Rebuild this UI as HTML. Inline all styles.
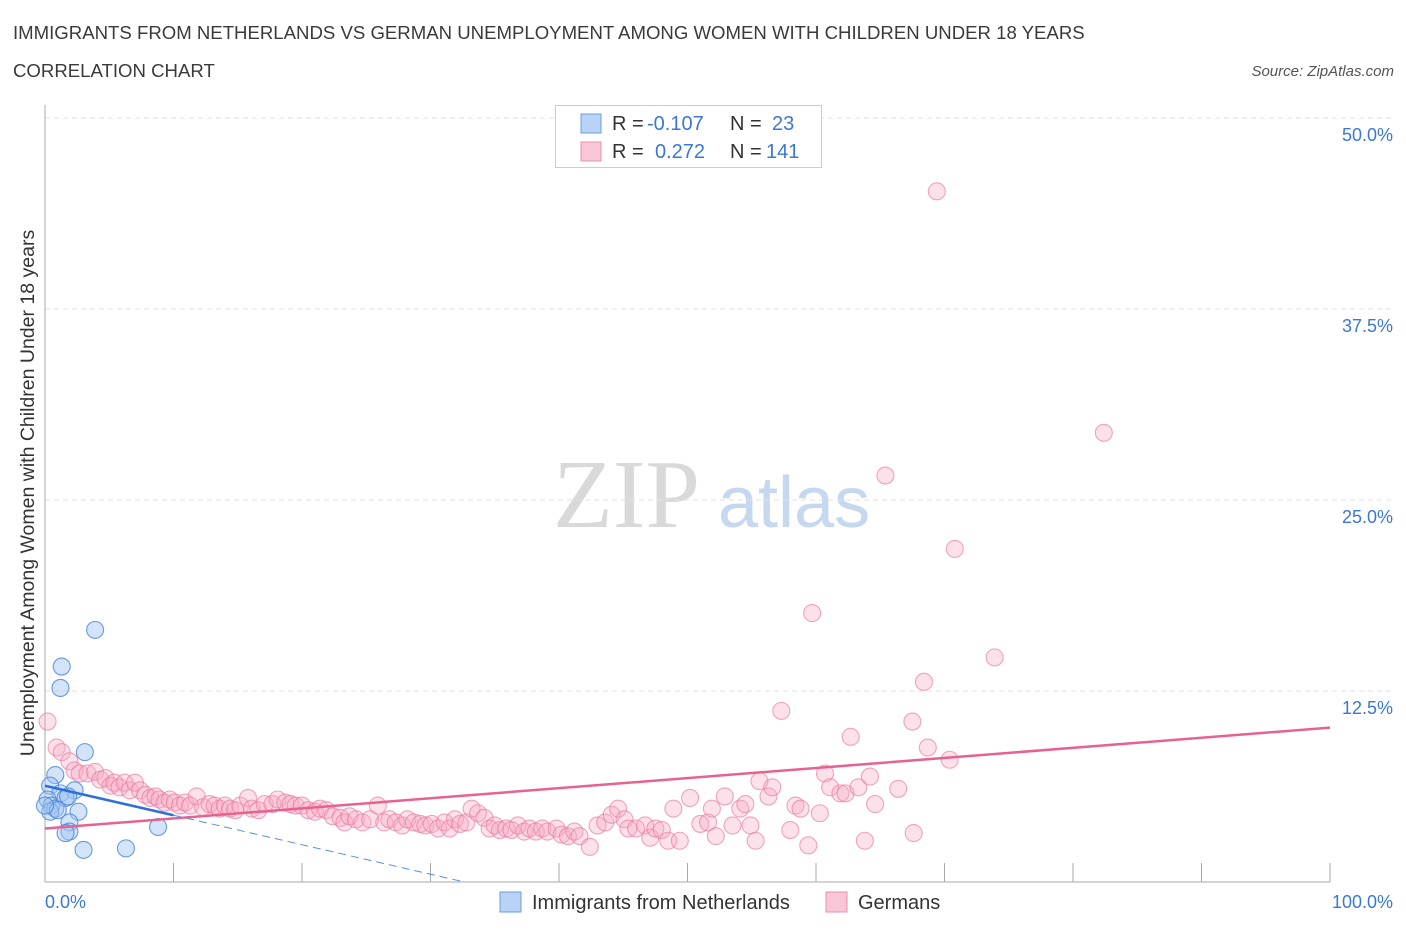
<!DOCTYPE html>
<html><head><meta charset="utf-8">
<style>
body{margin:0;background:#fff;font-family:"Liberation Sans",sans-serif;}
svg{display:block}
</style></head>
<body>
<svg id="chart" width="1406" height="930" xmlns="http://www.w3.org/2000/svg">
<text x="13" y="39" font-size="18.6" fill="#3a3a3a" font-family="Liberation Sans, sans-serif">IMMIGRANTS FROM NETHERLANDS VS GERMAN UNEMPLOYMENT AMONG WOMEN WITH CHILDREN UNDER 18 YEARS</text>
<text x="13" y="77" font-size="18.6" fill="#3a3a3a">CORRELATION CHART</text>
<text x="1394" y="76" font-size="15" fill="#555" font-style="italic" text-anchor="end">Source: ZipAtlas.com</text>
<g>
<text x="553" y="527" font-size="98" fill="#d9d9d9" font-family="Liberation Serif, serif">ZIP</text>
<text x="718" y="527" font-size="72" fill="#c5d8f0">atlas</text>
</g>
<g id="grid"></g>
<g id="axes"></g>
<g id="marks"></g>
<g id="trends"></g>
<g>
<rect x="555.5" y="105.5" width="266" height="62" fill="#fff" stroke="#ccc"/>
<rect x="581" y="114" width="20" height="19" fill="#b8d3f5" stroke="#6a9de0"/>
<text x="612" y="130" font-size="20" fill="#333">R =</text>
<text x="647" y="130" font-size="20" fill="#3a78d4">-0.107</text>
<text x="730" y="130" font-size="20" fill="#333">N =</text>
<text x="772" y="130" font-size="20" fill="#3a78d4">23</text>
<rect x="581" y="142" width="20" height="19" fill="#f9c6d6" stroke="#e891ad"/>
<text x="612" y="158" font-size="20" fill="#333">R =</text>
<text x="655" y="158" font-size="20" fill="#3a78d4">0.272</text>
<text x="730" y="158" font-size="20" fill="#333">N =</text>
<text x="766" y="158" font-size="20" fill="#3a78d4">141</text>
</g>
<g>
<rect x="500" y="892" width="21" height="20" fill="#b8d3f5" stroke="#6a9de0"/>
<text x="532" y="909" font-size="20" fill="#333">Immigrants from Netherlands</text>
<rect x="826" y="892" width="21" height="20" fill="#f9c6d6" stroke="#e891ad"/>
<text x="858" y="909" font-size="20" fill="#333">Germans</text>
</g>
</svg>
<script>
const yTicks=[12.5,25,37.5,50];
const yTickLabels=["12.5%","25.0%","37.5%","50.0%"];
const xTickCount=10;
const blueX=[3.9,1.3,1.2,3.1,0.8,2.3,0.4,1.2,0.2,0.5,0.8,1.6,1.8,2.6,0.4,1.9,1.9,1.6,3.0,6.3,8.8,1.0,0.0];
const blueY=[16.5,14.1,12.7,8.5,7.0,6.0,6.3,5.8,5.4,5.0,4.8,5.5,5.6,4.6,4.6,3.9,3.3,3.2,2.1,2.2,3.6,4.7,5.0];
const pinkX=[0.2,0.9,1.3,1.9,2.3,2.7,3.3,3.9,4.3,4.7,5.1,5.4,5.8,6.2,6.6,7.0,7.4,7.8,8.2,8.6,8.9,9.3,9.7,10.1,10.5,10.9,11.3,11.8,12.3,12.8,13.2,13.6,14.0,14.4,14.8,15.2,15.8,16.1,16.6,17.1,17.7,18.1,18.7,19.1,19.5,20.0,20.5,21.0,21.4,21.9,22.4,23.0,23.3,23.7,24.2,24.7,25.3,25.9,26.4,26.8,27.3,27.8,28.2,28.7,29.2,29.6,30.1,30.6,31.1,31.5,31.9,32.3,32.8,33.2,33.7,34.2,34.6,35.0,35.4,35.9,36.3,36.8,37.3,37.7,38.2,38.7,39.1,39.8,40.2,40.7,41.2,41.6,42.4,43.0,43.6,44.1,44.6,45.1,45.4,46.0,46.7,47.1,47.5,48.0,48.5,48.9,49.4,50.2,51.0,51.6,51.9,52.2,52.9,53.5,54.1,54.5,54.9,55.3,55.6,56.3,56.6,57.3,58.0,58.4,58.8,59.4,59.7,60.3,60.7,61.1,61.9,62.3,62.7,63.3,63.8,64.2,64.6,65.4,66.4,67.5,67.6,68.4,68.7,69.4,70.8,70.4,73.9,82.4];
const pinkY=[10.5,8.8,8.5,7.9,7.3,7.1,7.1,7.2,6.7,6.8,6.3,6.5,6.2,6.5,6.0,6.5,6.0,5.7,5.5,5.6,5.4,5.2,5.4,5.2,5.0,5.2,5.0,5.6,4.9,5.1,5.0,4.8,5.0,4.8,4.7,5.0,5.5,4.8,4.7,5.1,5.1,5.4,5.2,5.1,5.0,5.0,4.7,4.6,4.8,4.7,4.3,4.2,3.9,4.3,4.1,3.9,4.1,5.0,3.9,4.1,3.9,3.7,4.1,3.9,3.8,3.7,3.8,3.5,3.9,3.5,4.1,3.8,3.9,4.8,4.5,4.2,3.5,3.7,3.4,3.5,3.4,3.7,3.3,3.5,3.3,3.5,3.3,3.5,3.1,3.0,3.3,3.0,2.3,3.7,3.9,4.4,4.8,4.1,3.5,3.5,3.7,2.9,3.5,3.4,2.7,4.8,2.7,5.5,3.8,3.9,4.8,3.0,5.6,3.7,4.8,5.1,3.7,2.7,6.6,5.6,6.2,11.2,3.4,5.0,4.8,2.4,17.6,4.5,7.1,6.2,5.8,5.8,9.5,6.2,2.7,6.9,5.1,26.6,6.1,10.5,3.2,13.1,8.8,45.2,21.8,8.0,14.7,29.4];
const blueTrend=[6.3,-0.193];
const pinkTrend=[3.5,0.066];

const NS="http://www.w3.org/2000/svg";
const X0=45,X1=1330,Y0=882,Y50=118;
const sx=v=>X0+(X1-X0)*v/100;
const sy=v=>Y0-(Y0-Y50)*v/50;
function mk(tag,attrs,parent){const e=document.createElementNS(NS,tag);for(const k in attrs)e.setAttribute(k,attrs[k]);parent.appendChild(e);return e;}
const grid=document.getElementById('grid'),axes=document.getElementById('axes'),marks=document.getElementById('marks'),trends=document.getElementById('trends');
yTicks.forEach((t,i)=>{
  const g=mk('line',{x1:X0,x2:1395,y1:sy(t),y2:sy(t),stroke:'#e2e2e2','stroke-dasharray':'5,4'},grid);
  
  
  const l=mk('text',{x:1393,y:sy(t)+23,'font-size':18,fill:'#3a78d4','text-anchor':'end'},axes);
  l.textContent=yTickLabels[i];
  
  
});
const ya=mk('line',{x1:X0,x2:X0,y1:105,y2:Y0,stroke:'#aaa'},axes);


const xa=mk('line',{x1:X0,x2:X1,y1:Y0,y2:Y0,stroke:'#aaa'},axes);


for(let i=1;i<=xTickCount;i++){
  const tk=mk('line',{x1:sx(i*10),x2:sx(i*10),y1:863,y2:Y0,stroke:'#aaa'},axes);
  
  
}
const xl0=mk('text',{x:45,y:908,'font-size':18,fill:'#3a78d4'},axes);xl0.textContent='0.0%';


const xl1=mk('text',{x:1393,y:908,'font-size':18,fill:'#3a78d4','text-anchor':'end'},axes);xl1.textContent='100.0%';


const yt=mk('text',{x:0,y:0,'font-size':19.5,fill:'#333','text-anchor':'middle',transform:'translate(34,493) rotate(-90)'},axes);
yt.textContent='Unemployment Among Women with Children Under 18 years';


pinkX.forEach((x,i)=>{
  const c=mk('circle',{cx:sx(x),cy:sy(pinkY[i]),r:8.5,fill:'rgba(246,170,195,0.35)',stroke:'rgba(232,120,158,0.65)','stroke-width':1.1},marks);
  
  
});
blueX.forEach((x,i)=>{
  const c=mk('circle',{cx:sx(x),cy:sy(blueY[i]),r:8.5,fill:'rgba(160,195,240,0.45)',stroke:'rgba(70,130,220,0.8)','stroke-width':1.1},marks);
  
  
});
const pt=mk('line',{x1:sx(0),y1:sy(pinkTrend[0]),x2:sx(100),y2:sy(pinkTrend[0]+pinkTrend[1]*100),stroke:'#e8628f','stroke-width':2.5},trends);


const bt=mk('line',{x1:sx(0),y1:sy(blueTrend[0]),x2:sx(10),y2:sy(blueTrend[0]+blueTrend[1]*10),stroke:'#2f6fd6','stroke-width':2.5},trends);


const xEnd=-blueTrend[0]/blueTrend[1];
const bd=mk('line',{x1:sx(10),y1:sy(blueTrend[0]+blueTrend[1]*10),x2:sx(xEnd),y2:sy(0),stroke:'#5b8fe0','stroke-width':1,'stroke-dasharray':'8,5'},trends);


</script>
</body></html>
